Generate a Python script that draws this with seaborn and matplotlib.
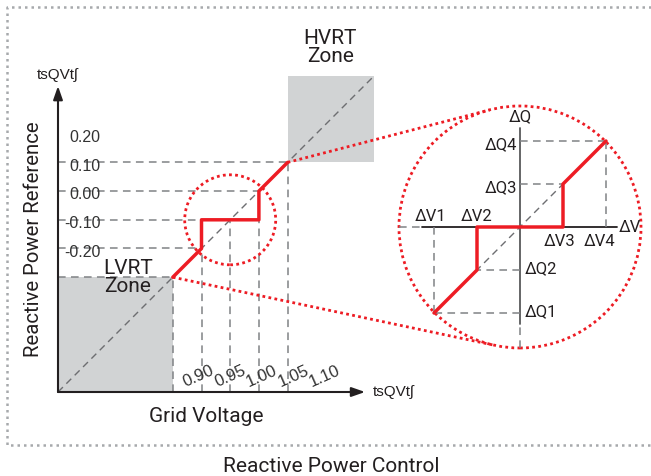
import numpy as np
import matplotlib
matplotlib.use('Agg')
import matplotlib.pyplot as plt
from matplotlib.patches import Rectangle, Ellipse, Circle
import seaborn as sns

# main Q(V) characteristic, per unit
grid_v = [0.85, 0.90, 0.95, 1.00, 1.05]
q_at_v = [-0.30, -0.20, -0.10, 0.00, 0.10]
q_levels = [-0.30, -0.20, -0.10, 0.00, 0.10]
q_level_ends = [0.85, 0.90, 0.90, 1.00, 1.05]
y_tick_vals = [0.20, 0.10, 0.00, -0.10, -0.20]
y_tick_labels = ['0.20', '0.10', '0.00', '-0.10', '-0.20']
x_tick_vals = [0.90, 0.95, 1.00, 1.05, 1.10]
x_tick_labels = ['0.90', '0.95', '1.00', '1.05', '1.10']
curve_v = [0.85, 0.90, 0.90, 1.00, 1.00, 1.05]
curve_q = [-0.30, -0.20, -0.10, -0.10, 0.00, 0.10]
lvrt_v, lvrt_q = [0.65, 0.85], [-0.70, -0.30]
hvrt_v, hvrt_q = [1.05, 1.20], [0.10, 0.40]

# zoomed detail, in steps
dv_ticks = [-2, -1, 1, 2]
dv_labels = ['ΔV1', 'ΔV2', 'ΔV3', 'ΔV4']
dq_ticks = [-2, -1, 1, 2]
dq_labels = ['ΔQ1', 'ΔQ2', 'ΔQ3', 'ΔQ4']
zoom_v = [-2, -1, -1, 1, 1, 2]
zoom_q = [-2, -1, 0, 0, 1, 2]

RED = '#ed1c24'
GRAY = '#808285'
DARK = '#231f20'
BOX = '#d1d3d4'
DASH = (0, (5, 3.5))
DOT = (0, (1, 1.2))
ARIAL = ['Liberation Sans', 'DejaVu Sans']

W, H = 651, 476
sns.set_theme(style='white')
plt.rcParams['font.family'] = ['Roboto', 'DejaVu Sans']
fig = plt.figure(figsize=(W / 100, H / 100), dpi=100)


def frac(x0, y0, w, h):
    # pixel box (top-left origin) -> figure fraction
    return [x0 / W, 1 - (y0 + h) / H, w / W, h / H]


# ---- main diagram ----
ax = fig.add_axes(frac(58, 60, 322, 332))
x0, y0 = lvrt_v[0], lvrt_q[0]

ax.add_patch(Rectangle((lvrt_v[0], lvrt_q[0]), lvrt_v[1] - lvrt_v[0], lvrt_q[1] - lvrt_q[0],
                       fc=BOX, ec='none', zorder=0))
ax.add_patch(Rectangle((hvrt_v[0], hvrt_q[0]), hvrt_v[1] - hvrt_v[0], hvrt_q[1] - hvrt_q[0],
                       fc=BOX, ec='none', zorder=0))
ax.plot([x0, hvrt_v[1]], [y0, hvrt_q[1]], color='#6d6e71', lw=1, ls=DASH, zorder=1)
for v, q in zip(grid_v, q_at_v):
    ax.plot([v, v], [y0, q], color=GRAY, lw=1.1, ls=DASH, zorder=1)
for q, v in zip(q_levels, q_level_ends):
    ax.plot([x0, v], [q, q], color=GRAY, lw=1.1, ls=DASH, zorder=1)

sns.lineplot(x=curve_v, y=curve_q, sort=False, estimator=None, color=RED, lw=2.5, ax=ax, zorder=3)

ax.add_patch(Ellipse((0.95, -0.10), 2 * 45.5 / 574, 2 * 45 / 287, fill=False,
                     ec=RED, lw=2, ls=DOT, zorder=4))

arrow = dict(arrowstyle='-|>,head_length=0.8,head_width=0.28', color=DARK, lw=1.5,
             mutation_scale=10, shrinkA=0, shrinkB=0)
ax.annotate('', xy=(1.185, y0), xytext=(x0, y0), arrowprops=arrow)
ax.annotate('', xy=(x0, 0.366), xytext=(x0, y0), arrowprops=arrow)
ax.text(1.199, y0, 'tsQVtʃ', ha='left', va='center', fontsize=11, family=ARIAL, color=DARK)
ax.text(x0, 0.405, 'tsQVtʃ', ha='center', va='center', fontsize=11, family=ARIAL,
        color=DARK, clip_on=False)

for q, lab in zip(y_tick_vals, y_tick_labels):
    ax.text(0.724, q - 0.013, lab, ha='right', va='center', fontsize=11.5,
            family=ARIAL, color='#333333')
for v, lab in zip(x_tick_vals, x_tick_labels):
    ax.text(0.90 + (v - 0.90) * 1.1 - 0.005, -0.646, lab, ha='center', va='center',
            rotation=24, fontsize=12, family=ARIAL, color='#333333')

ax.text(1.124, 0.50, 'HVRT\nZone', ha='center', va='center', fontsize=15,
        linespacing=0.95, color=DARK, clip_on=False)
ax.text(0.772, -0.301, 'LVRT\nZone', ha='center', va='center', fontsize=15,
        linespacing=0.95, color=DARK, zorder=5)

ax.set_xlim(0.65, 0.65 + 322 / 574)
ax.set_ylim(-0.70, -0.70 + 332 / 287)
ax.axis('off')

# ---- zoomed inset ----
ins = fig.add_axes(frac(396, 103, 248, 248))
lim = 124 / 43
R = 121 / 43
ins.add_patch(Circle((0, 0), R, fill=False, ec=RED, lw=2, ls=DOT))
ins.plot([-R, -2.28], [0, 0], color=GRAY, lw=1.1, ls=DASH)
ins.plot([-2.28, 2.26], [0, 0], color=DARK, lw=1.3)
ins.plot([0, 0], [-2.26, 2.30], color='#58595b', lw=1.3)
ins.plot([0, 0], [-R, -2.26], color=GRAY, lw=1.1, ls=DASH)
ins.plot([-2, 2], [-2, 2], color='#6d6e71', lw=1, ls=DASH)
for t in dq_ticks:
    ins.plot([0, t], [t, t], color=GRAY, lw=1.1, ls=DASH)
ins.plot([2, 2], [0, 2], color=GRAY, lw=1.1, ls=DASH)
ins.plot([-2, -2], [0, -2], color=GRAY, lw=1.1, ls=DASH)
sns.lineplot(x=zoom_v, y=zoom_q, sort=False, estimator=None, color=RED, lw=2.5, ax=ins, zorder=3)

for t, lab in zip(dv_ticks, dv_labels):
    if t < 0:
        ins.text(t - 0.07 if t == -2 else t - 0.02, 0.24, lab, ha='center', va='center',
                 fontsize=12, color=DARK)
    else:
        ins.text(t - 0.08 if t == 1 else t - 0.14, -0.33, lab, ha='center', va='center',
                 fontsize=12, color=DARK)
for t, lab in zip(dq_ticks, dq_labels):
    if t > 0:
        ins.text(-0.07, t - 0.08, lab, ha='right', va='center', fontsize=12, color=DARK)
    else:
        ins.text(0.12, t + 0.02, lab, ha='left', va='center', fontsize=12, color=DARK)
ins.text(2.3, 0, 'ΔV', ha='left', va='center', fontsize=12, color=DARK)
ins.text(0, 2.56, 'ΔQ', ha='center', va='center', fontsize=12, color=DARK)
ins.set_xlim(-lim, lim)
ins.set_ylim(-lim, lim)
ins.axis('off')

# ---- overlay: frame, tangent lines, titles ----
ov = fig.add_axes([0, 0, 1, 1], zorder=5)
ov.set_xlim(0, W)
ov.set_ylim(0, H)
ov.axis('off')
ov.patch.set_alpha(0)


def tangent(p, c, r, side):
    d = c - p
    dist = np.hypot(*d)
    a = side * np.arcsin(r / dist)
    L = np.sqrt(dist ** 2 - r ** 2)
    u = d / dist
    rot = np.array([[np.cos(a), -np.sin(a)], [np.sin(a), np.cos(a)]])
    return p + L * (rot @ u)


c = ins.transData.transform((0, 0))
r_px = ins.transData.transform((R, 0))[0] - c[0]
for pt, side in [((hvrt_v[0], hvrt_q[0]), 1), ((lvrt_v[1], lvrt_q[1]), -1)]:
    p = ax.transData.transform(pt)
    t = tangent(p, c, r_px, side)
    ov.plot([p[0], t[0]], [p[1], t[1]], color=RED, lw=2, ls=DOT)

ov.plot([W, 7, 7, W], [H - 7, H - 7, H - 445, H - 445], color='#a7a9ac', lw=1.8,
        ls=(0, (1, 1.6)))
ov.text(331, H - 466, 'Reactive Power Control', ha='center', va='center', fontsize=15, color=DARK)
ov.text(206, H - 417, 'Grid Voltage', ha='center', va='center', fontsize=15, color=DARK)
ov.text(34, H - 239, 'Reactive Power Reference', ha='center', va='center', rotation=90,
        fontsize=14.7, color=DARK)

fig.savefig('out.png', dpi=100)
